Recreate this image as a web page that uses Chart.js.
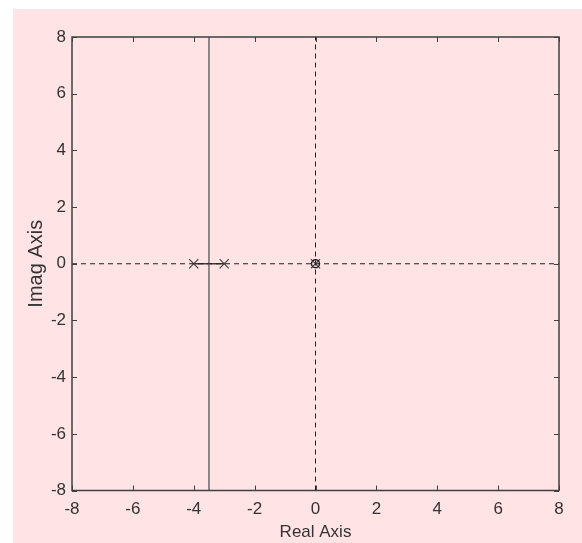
<!DOCTYPE html>
<html>
<head>
<meta charset="utf-8">
<script src="https://cdn.jsdelivr.net/npm/chart.js@4/dist/chart.umd.min.js"></script>
<style>
  html, body { margin: 0; padding: 0; background: #ffffff; width: 582px; height: 543px; overflow: hidden; }
  #panel { position: absolute; left: 13px; top: 9px; width: 569px; height: 534px; background: #FFE3E5; }
  canvas { display: block; }
</style>
</head>
<body>
<div id="panel"><canvas id="c" width="569" height="534"></canvas></div>
<script>
// ---- data ----
const axisMin = -8;
const axisMax = 8;
const tickStep = 2;
const poleReal = [-4, -3, 0];
const poleImag = [0, 0, 0];
const zeroReal = [0];
const zeroImag = [0];
// root locus branches
const branchRealX = [-4, -3];
const branchRealY = [0, 0];
const asymptoteX = [-3.5, -3.5];
const asymptoteY = [-8, 8];
// dashed reference axes
const hAxisX = [-8, 8];
const hAxisY = [0, 0];
const vAxisX = [0, 0];
const vAxisY = [-8, 8];

const pts = (xs, ys) => xs.map((x, i) => ({ x: x, y: ys[i] }));

const FONT = "'Liberation Sans', Arial, sans-serif";
const FS = 17;
const TXT = '#333333';

const frameTicks = {
  id: 'frameTicks',
  afterDatasetsDraw(chart) {
    const { ctx, chartArea: a, scales } = chart;
    const len = 5;
    ctx.save();
    ctx.strokeStyle = '#404040';
    ctx.lineWidth = 1;
    ctx.beginPath();
    scales.x.ticks.forEach(t => {
      const px = Math.round(scales.x.getPixelForValue(t.value)) + 0.5;
      ctx.moveTo(px, a.bottom); ctx.lineTo(px, a.bottom - len);
      ctx.moveTo(px, a.top); ctx.lineTo(px, a.top + len);
    });
    scales.y.ticks.forEach(t => {
      const py = Math.round(scales.y.getPixelForValue(t.value)) + 0.5;
      ctx.moveTo(a.left, py); ctx.lineTo(a.left + len, py);
      ctx.moveTo(a.right, py); ctx.lineTo(a.right - len, py);
    });
    ctx.stroke();
    ctx.lineWidth = 1.5;
    ctx.strokeRect(a.left, a.top, a.right - a.left, a.bottom - a.top);
    ctx.restore();
  }
};

new Chart(document.getElementById('c'), {
  type: 'scatter',
  data: {
    datasets: [
      { data: pts(hAxisX, hAxisY), showLine: true, borderColor: '#222', borderWidth: 1, borderDash: [5, 4], pointRadius: 0 },
      { data: pts(vAxisX, vAxisY), showLine: true, borderColor: '#222', borderWidth: 1, borderDash: [5, 4], pointRadius: 0 },
      { data: pts(asymptoteX, asymptoteY), showLine: true, borderColor: '#6a6a6a', borderWidth: 1.5, pointRadius: 0 },
      { data: pts(branchRealX, branchRealY), showLine: true, borderColor: '#3a3a3a', borderWidth: 1.5, pointRadius: 0 },
      { data: pts(zeroReal, zeroImag), showLine: false, pointStyle: 'circle', pointRadius: 4, borderColor: '#222', borderWidth: 1.5, backgroundColor: 'rgba(0,0,0,0)' },
      { data: pts(poleReal, poleImag), showLine: false, pointStyle: 'crossRot', pointRadius: 6.5, borderColor: '#444', borderWidth: 1.2 }
    ]
  },
  options: {
    responsive: false,
    animation: false,
    devicePixelRatio: 1,
    layout: { padding: { left: 0, top: 28, right: 23, bottom: 0 } },
    plugins: { legend: { display: false }, tooltip: { enabled: false } },
    scales: {
      x: {
        type: 'linear', min: axisMin, max: axisMax,
        grid: { display: false, drawTicks: false },
        border: { display: false },
        ticks: { stepSize: tickStep, padding: 9, color: TXT, font: { family: FONT, size: FS }, maxRotation: 0 },
        title: { display: true, text: 'Real Axis', color: TXT, font: { family: FONT, size: FS, lineHeight: 1 }, padding: { top: 0, bottom: 2.5 } },
        afterFit(s) { s.height = 52.5; }
      },
      y: {
        type: 'linear', min: axisMin, max: axisMax,
        grid: { display: false, drawTicks: false },
        border: { display: false },
        ticks: { stepSize: tickStep, padding: 6, color: TXT, font: { family: FONT, size: FS } },
        title: { display: true, text: 'Imag Axis', color: TXT, font: { family: FONT, size: 20, lineHeight: 1 }, padding: { top: 13, bottom: 0 } },
        afterFit(s) { s.width = 59; }
      }
    }
  },
  plugins: [frameTicks]
});
</script>
</body>
</html>
